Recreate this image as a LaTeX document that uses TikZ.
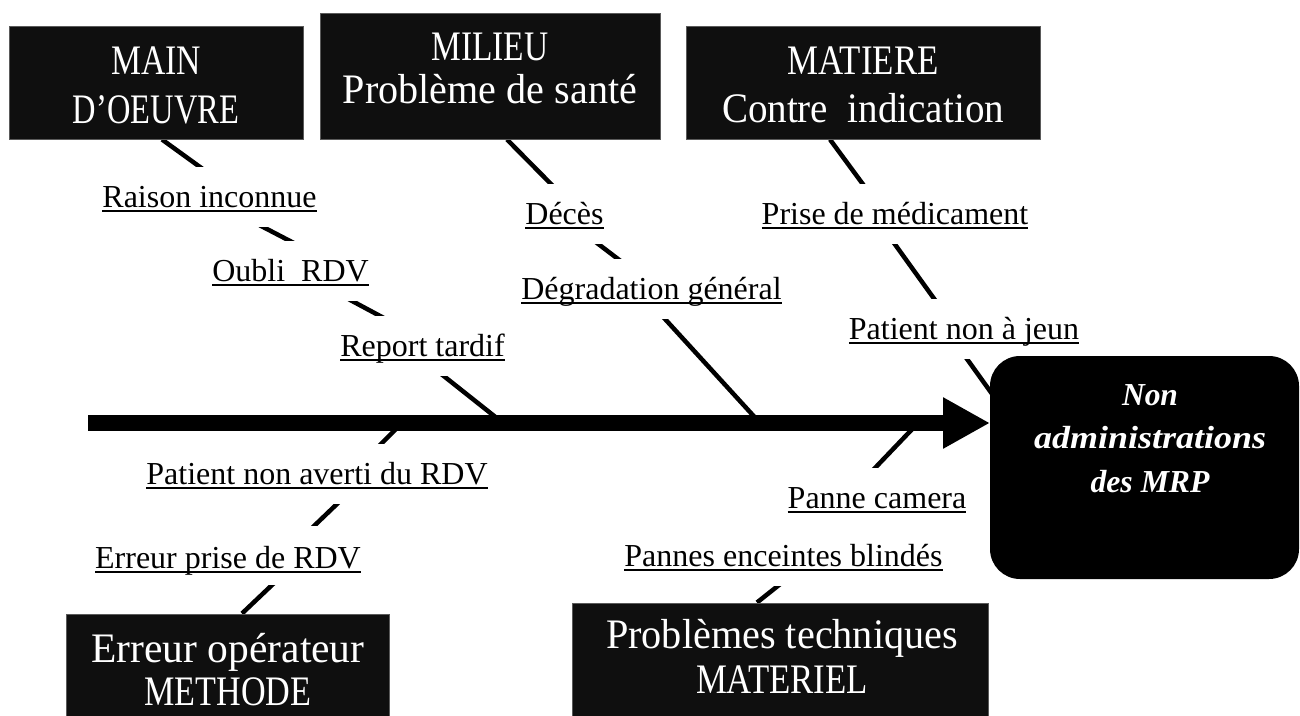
\documentclass[tikz,border=0pt]{standalone}
\usepackage{fontspec}
\setmainfont{Liberation Serif}
\usepackage{graphicx}
\usetikzlibrary{arrows.meta}
\pgfdeclarelayer{paper}
\pgfdeclarelayer{bg}
\pgfsetlayers{paper,bg,main}
\newcommand\fitw[2]{\resizebox{#1pt}{\height}{#2}}
\newcommand\ulin[1]{\sbox0{#1}\rlap{\rule[-5pt]{\wd0}{2pt}}\usebox0}
\definecolor{boxfill}{RGB}{15,15,15}
\definecolor{boxedge}{RGB}{90,90,90}
\begin{document}
\begin{tikzpicture}[x=1pt,y=-1pt,
  catbox/.style={draw=boxedge, line width=1pt, fill=boxfill, inner sep=0pt},
  boxtxt/.style={anchor=base, text=white, inner sep=0pt, align=center, font=\fontsize{42}{#1}\selectfont},
  cause/.style={anchor=base, fill=white, inner xsep=3pt, inner ysep=0pt, text height=40pt, text depth=20pt, font=\fontsize{32}{38}\selectfont},
  branch/.style={line width=4.5pt, shorten <=-6pt, shorten >=-6pt},
  spine/.style={line width=16pt, -{Triangle[length=47pt,width=48pt]}},
  effect/.style={fill=black, rounded corners=30pt, inner sep=0pt},
  efftxt/.style={anchor=base, text=white, inner sep=0pt, font=\fontsize{32}{43.5}\selectfont\bfseries\itshape}]
\clip (0,0) rectangle (1300,715);
\begin{pgfonlayer}{paper}
\fill[white] (0,0) rectangle (1300,715);
\end{pgfonlayer}

% cause labels
\node[cause] (raison) at (209.5,207) {\ulin{Raison inconnue}};
\node[cause] (oubli) at (290.5,281) {\ulin{Oubli\ \ RDV}};
\node[cause] (report) at (422.5,356) {\ulin{Report tardif}};
\node[cause] (deces) at (564.5,224) {\ulin{Décès}};
\node[cause] (degrad) at (651.5,299) {\ulin{Dégradation général}};
\node[cause] (prise) at (895,224) {\ulin{Prise de médicament}};
\node[cause] (jeun) at (964,339) {\ulin{Patient non à jeun}};
\node[cause] (averti) at (317,484) {\ulin{Patient non averti du RDV}};
\node[cause, text height=42pt, text depth=17pt] (erreurp) at (228,568) {\ulin{Erreur prise de RDV}};
\node[cause] (camera) at (877,508) {\ulin{Panne camera}};
\node[cause] (pannes) at (783.5,566) {\ulin{Pannes enceintes blindés}};

% spine
\coordinate (tail) at (88,423);
\coordinate (head) at (990,423);
\draw[spine] (tail) -- (head);

% category boxes
\node[catbox, minimum width=294pt, minimum height=113pt] (mo) at (156,82.5) {};
\node[boxtxt=49pt] (motxt) at (156,74) {\begin{tabular}[t]{@{}c@{}}\fitw{90}{MAIN}\\\fitw{166}{D’OEUVRE}\end{tabular}};
\node[catbox, minimum width=340pt, minimum height=126pt] (mi) at (490,76) {};
\node[boxtxt=43pt] (mitxt) at (490,60) {\begin{tabular}[t]{@{}c@{}}\fitw{117}{MILIEU}\\\fitw{294}{Problème de santé}\end{tabular}};
\node[catbox, minimum width=354pt, minimum height=113pt] (ma) at (863,82.5) {};
\node[boxtxt=48pt] (matxt) at (863,74) {\begin{tabular}[t]{@{}c@{}}\fitw{151}{MATIERE}\\\fitw{282}{Contre\ \ indication}\end{tabular}};
\node[catbox, minimum width=323pt, minimum height=132pt] (me) at (227.5,680) {};
\node[boxtxt=43pt] (metxt) at (228,662) {\begin{tabular}[t]{@{}c@{}}\fitw{273}{Erreur opérateur}\\\fitw{167}{METHODE}\end{tabular}};
\node[catbox, minimum width=416pt, minimum height=144pt] (mt) at (780,675) {};
\node[boxtxt=45pt] (mttxt) at (782,648) {\begin{tabular}[t]{@{}c@{}}\fitw{352}{Problèmes techniques}\\\fitw{172}{MATERIEL}\end{tabular}};

% effect box
\node[effect, minimum width=309pt, minimum height=223pt] (eff) at (1144.5,467.5) {};
\node[efftxt] (efftext) at (1150,405) {\begin{tabular}[t]{@{}c@{}}\fitw{56}{Non}\\\fitw{232}{administrations}\\\fitw{119}{des MRP}\end{tabular}};

% branch segments (behind labels, boxes and spine)
\begin{pgfonlayer}{bg}
\draw[branch, shorten <=0pt] (mo.south -| 162,0) -- (200,167);
\draw[branch] (265,228) -- (290,241);
\draw[branch] (354,302) -- (382,317);
\draw[branch, shorten >=0pt] (445,377) -- (tail -| 503,0);
\draw[branch, shorten <=0pt] (mi.south -| 507,0) -- (550,183);
\draw[branch] (597,243) -- (618,259);
\draw[branch, shorten >=0pt] (665,319) -- (tail -| 760,0);
\draw[branch, shorten <=0pt] (ma.south -| 830,0) -- (862,183);
\draw[branch] (894,243) -- (935,300);
\draw[branch] (967,359) -- (1000,405);
\draw[branch, shorten <=0pt] (tail -| 402,0) -- (382,443);
\draw[branch] (338,503) -- (314,526);
\draw[branch, shorten >=0pt] (272,585) -- (me.north -| 242,0);
\draw[branch, shorten <=0pt] (tail -| 918,0) -- (875,468);
\draw[branch, shorten >=0pt] (779,585) -- (mt.north -| 757,0);
\end{pgfonlayer}
\end{tikzpicture}
\end{document}
